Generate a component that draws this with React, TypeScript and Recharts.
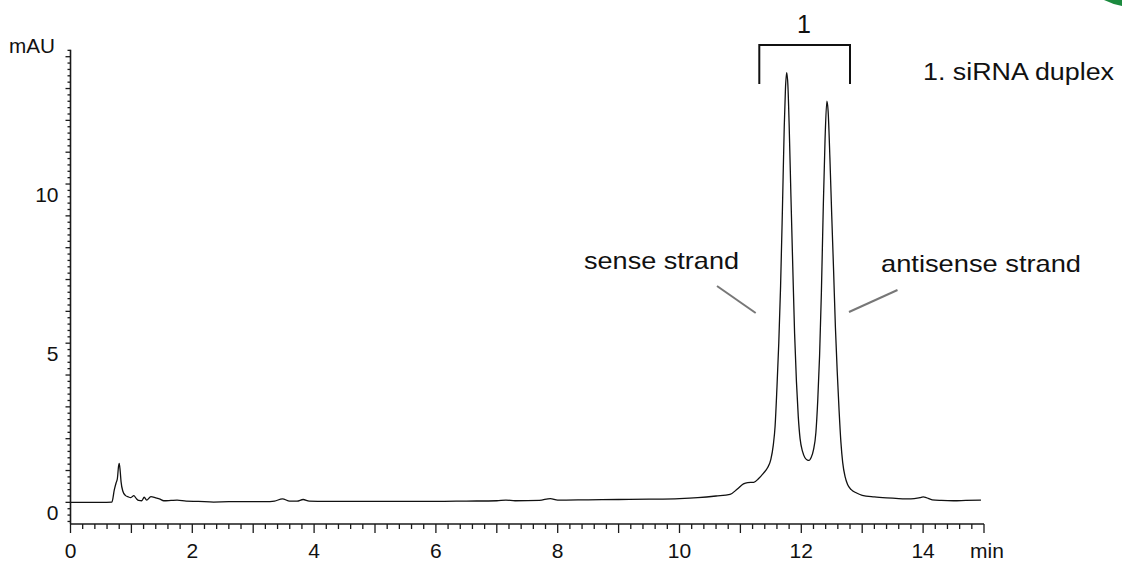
import React from "react";
import { LineChart, Line, XAxis, YAxis } from "recharts";

// Chromatogram: retention time (min) and absorbance (mAU)
const TIMES = [
  0, 0.3, 0.5, 0.68, 0.72, 0.75, 0.77, 0.79, 0.8, 0.815, 0.83, 0.86, 0.9, 0.95, 0.99,
  1.04, 1.08, 1.12, 1.17, 1.21, 1.25, 1.32, 1.4, 1.47, 1.53, 1.65, 1.75, 1.9, 2.1,
  2.35, 2.6, 2.9, 3.2, 3.35, 3.48, 3.6, 3.72, 3.82, 3.92, 4.2, 4.6, 5.0, 5.5, 6.0,
  6.5, 7.0, 7.15, 7.3, 7.7, 7.88, 8.0, 8.5, 9.0, 9.5, 10.0, 10.3, 10.6, 10.83, 10.95,
  11.05, 11.12, 11.22, 11.3, 11.38, 11.45,
  11.5, 11.54, 11.57, 11.6, 11.63, 11.66, 11.69, 11.72, 11.74, 11.76, 11.78, 11.8,
  11.83, 11.86, 11.89, 11.92, 11.95, 11.98, 12.02, 12.06, 12.1, 12.13, 12.16, 12.2,
  12.24, 12.27, 12.3, 12.33, 12.36, 12.39, 12.42, 12.44, 12.47, 12.5, 12.53, 12.56,
  12.59, 12.62, 12.65, 12.68, 12.72, 12.76, 12.82, 12.9, 13.0, 13.2, 13.4, 13.6,
  13.8, 13.95, 14.0, 14.05, 14.15, 14.3, 14.5, 14.7, 14.95,
];
const SIGNAL = [
  0.0, 0.0, 0.0, 0.01, 0.4, 0.62, 0.75, 1.15, 1.22, 1.0, 0.65, 0.35, 0.22, 0.17, 0.15,
  0.21, 0.12, 0.06, 0.05, 0.16, 0.07, 0.18, 0.14, 0.1, 0.05, 0.06, 0.07, 0.04, 0.03,
  0.01, 0.02, 0.02, 0.02, 0.04, 0.11, 0.04, 0.04, 0.09, 0.04, 0.03, 0.03, 0.03, 0.03, 0.03,
  0.04, 0.05, 0.07, 0.05, 0.06, 0.12, 0.07, 0.08, 0.09, 0.1, 0.12, 0.15, 0.2, 0.25, 0.42,
  0.58, 0.62, 0.63, 0.75, 0.92, 1.1,
  1.35, 1.8, 2.4, 3.6, 5.0, 6.8, 9.2, 11.8, 13.0, 13.5, 13.1, 11.9,
  9.6, 7.4, 5.3, 3.8, 2.7, 2.0, 1.6, 1.4, 1.33, 1.32, 1.4, 1.65,
  2.2, 3.2, 4.6, 6.6, 9.2, 11.4, 12.6, 12.3, 10.8, 9.0, 7.3, 5.5,
  4.1, 2.9, 1.9, 1.25, 0.8, 0.56, 0.4, 0.3, 0.22, 0.17, 0.14, 0.12,
  0.11, 0.15, 0.17, 0.15, 0.08, 0.06, 0.05, 0.06, 0.07,
];

const X_LABELS = [0, 2, 4, 6, 8, 10, 12, 14];
const Y_LABELS = [0, 5, 10];
const X_DOMAIN: [number, number] = [0, 15];
const Y_DOMAIN: [number, number] = [-0.68, 14.22];
const X_STEP = 0.2;
const Y_STEP = 0.2;

const data = TIMES.map((t, i) => ({ t, v: SIGNAL[i] }));

const makeTicks = (lo: number, hi: number, step: number) => {
  const out: number[] = [];
  const start = Math.ceil(lo / step - 1e-9);
  const end = Math.floor(hi / step + 1e-9);
  for (let k = start; k <= end; k++) out.push(Number((k * step).toFixed(4)));
  return out;
};
const xTicks = makeTicks(X_DOMAIN[0], X_DOMAIN[1], X_STEP);
const yTicks = makeTicks(Y_DOMAIN[0], Y_DOMAIN[1], Y_STEP);

const W = 1122;
const H = 563;
const MARGIN = { top: 49.7, right: 138, bottom: 38, left: 69.5 };
const FONT = "'Liberation Sans', Arial, Helvetica, sans-serif";
const AXIS = "#1a1a1a";

const isInt = (v: number) => Math.abs(v - Math.round(v)) < 1e-6;

const XTick = (props: any) => {
  const { x, y, payload } = props;
  const v = payload.value as number;
  const len = isInt(v) ? 9 : 5;
  const showLabel = X_LABELS.some((l) => Math.abs(l - v) < 1e-6);
  return (
    <g>
      <line x1={x} x2={x} y1={y} y2={y + len} stroke={AXIS} strokeWidth={1.3} />
      {showLabel && (
        <text x={x} y={y + 34} textAnchor="middle" fontFamily={FONT} fontSize={21} fill="#111">
          {Math.round(v)}
        </text>
      )}
    </g>
  );
};

const YTick = (props: any) => {
  const { x, y, payload } = props;
  const v = payload.value as number;
  const len = isInt(v) ? 5 : 3;
  const showLabel = Y_LABELS.some((l) => Math.abs(l - v) < 1e-6);
  return (
    <g>
      <line x1={x - len} x2={x} y1={y} y2={y} stroke={AXIS} strokeWidth={1.3} />
      {showLabel && (
        <text x={x - 12} y={y + 17.5} textAnchor="end" fontFamily={FONT} fontSize={21} fill="#111">
          {Math.round(v)}
        </text>
      )}
    </g>
  );
};

export default function App() {
  return (
    <div style={{ position: "absolute", left: 0, top: 0, width: W, height: H, background: "#fff" }}>
      <LineChart width={W} height={H} data={data} margin={MARGIN}>
        <XAxis
          dataKey="t"
          type="number"
          domain={X_DOMAIN}
          allowDataOverflow
          ticks={xTicks}
          interval={0}
          tickSize={0}
          tickMargin={0}
          tickLine={false}
          height={1}
          axisLine={{ stroke: AXIS, strokeWidth: 1.6 }}
          tick={<XTick />}
        />
        <YAxis
          type="number"
          domain={Y_DOMAIN}
          allowDataOverflow
          ticks={yTicks}
          interval={0}
          tickSize={0}
          tickMargin={0}
          tickLine={false}
          width={1}
          axisLine={{ stroke: AXIS, strokeWidth: 1.6 }}
          tick={<YTick />}
        />
        <Line
          type="monotone"
          dataKey="v"
          stroke="#111"
          strokeWidth={1.3}
          dot={false}
          isAnimationActive={false}
        />
      </LineChart>
      <svg
        width={W}
        height={H}
        style={{ position: "absolute", left: 0, top: 0, pointerEvents: "none" }}
      >
        <path d="M1104,0 Q1112,4 1122,6 L1122,0 Z" fill="#1b8a3e" />
        <text x={9} y={53} fontFamily={FONT} fontSize={21} textLength={46} lengthAdjust="spacingAndGlyphs" fill="#111">
          mAU
        </text>
        <text x={987} y={558} textAnchor="middle" fontFamily={FONT} fontSize={21} fill="#111">
          min
        </text>
        <text x={804} y={33} textAnchor="middle" fontFamily={FONT} fontSize={25} fill="#111">
          1
        </text>
        <path d="M759.3,84 L759.3,45 L850,45 L850,84" fill="none" stroke="#111" strokeWidth={2} />
        <text x={923} y={80} fontFamily={FONT} fontSize={23} textLength={191} lengthAdjust="spacingAndGlyphs" fill="#111">
          1. siRNA duplex
        </text>
        <text x={584} y={269} fontFamily={FONT} fontSize={24} textLength={155} lengthAdjust="spacingAndGlyphs" fill="#111">
          sense strand
        </text>
        <text x={881} y={272} fontFamily={FONT} fontSize={24} textLength={200} lengthAdjust="spacingAndGlyphs" fill="#111">
          antisense strand
        </text>
        <line x1={717} y1={286} x2={755.7} y2={313} stroke="#777" strokeWidth={2} />
        <line x1={897.5} y1={290} x2={849} y2={312} stroke="#777" strokeWidth={2} />
      </svg>
    </div>
  );
}
